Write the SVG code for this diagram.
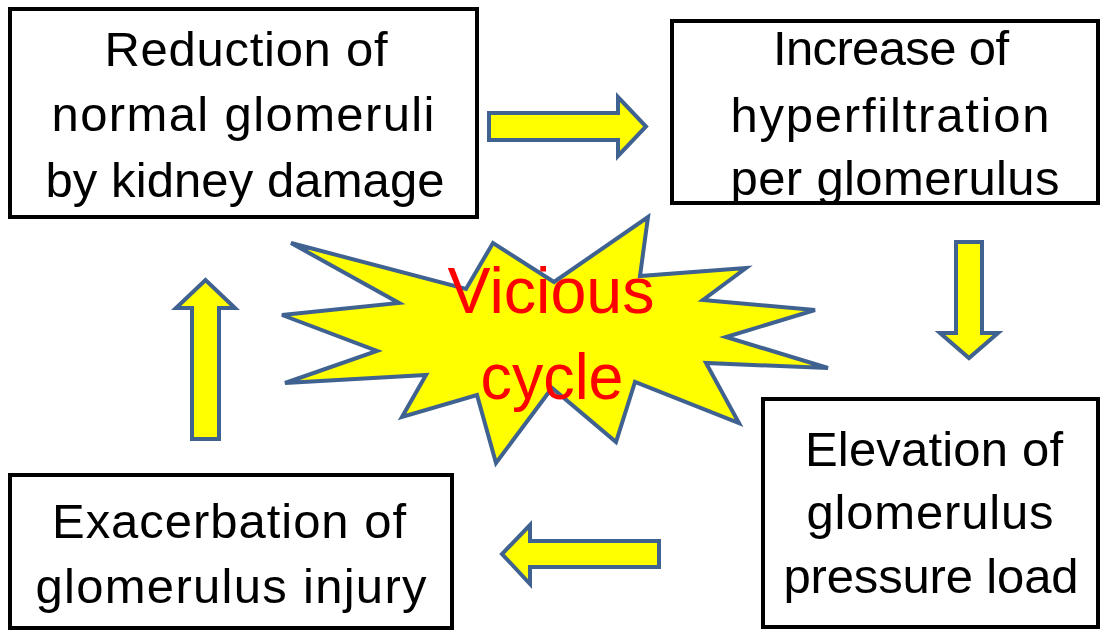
<svg xmlns="http://www.w3.org/2000/svg" width="1104" height="632" viewBox="0 0 1104 632">
<style>
.box{fill:#ffffff;stroke:#000000;stroke-width:4}
.t{font-family:"Liberation Sans",Arial,sans-serif;font-size:49px;fill:#000000;text-anchor:middle}
.shape{fill:#ffff00;stroke:#3f6290;stroke-width:4;stroke-linejoin:miter}
.v{font-family:"Liberation Sans",Arial,sans-serif;font-size:64px;fill:#ff0000;text-anchor:middle}
</style>
<rect width="1104" height="632" fill="#ffffff"/>
<g id="star">
<polygon class="shape" stroke-width="3.5" points="291,243 466,289 493,243 554,282 648,217 640,276 746,268 703,300 815,310 726,337 828,368 706,363 739,423 635,382 616,442 552,388 496,463 477,395 402,417 426,375 285,383 377,351 282,315 399,303"/>
<text class="v" x="551" y="313" textLength="207" lengthAdjust="spacingAndGlyphs">Vicious</text>
<text class="v" x="552" y="399" textLength="143" lengthAdjust="spacingAndGlyphs">cycle</text>
</g>
<g id="connectors">
<path class="shape" d="M489,113 L618,113 L618,97 L646,126.5 L618,156 L618,140 L489,140 Z"/>
<path class="shape" d="M956,242 L982,242 L982,333 L998,333 L969,358 L940,333 L956,333 Z"/>
<path class="shape" d="M659,541 L659,567 L530,567 L530,584 L502,554 L530,525 L530,541 Z"/>
<path class="shape" d="M192,439 L219,439 L219,308 L235,308 L205.5,280 L176,308 L192,308 Z"/>
</g>
<g id="node1">
<rect class="box" x="10" y="9" width="467" height="208"/>
<text class="t" x="246" y="66" textLength="283">Reduction of</text>
<text class="t" x="243" y="131" textLength="383">normal glomeruli</text>
<text class="t" x="245" y="197" textLength="399">by kidney damage</text>
</g>
<g id="node2">
<rect class="box" x="672" y="21" width="426" height="182"/>
<text class="t" x="891" y="65" textLength="236">Increase of</text>
<text class="t" x="890" y="132" textLength="319">hyperfiltration</text>
<text class="t" x="895" y="195" textLength="329">per glomerulus</text>
</g>
<g id="node3">
<rect class="box" x="763" y="399" width="335" height="228"/>
<text class="t" x="934" y="466" textLength="258">Elevation of</text>
<text class="t" x="930" y="529" textLength="247">glomerulus</text>
<text class="t" x="931" y="593" textLength="295">pressure load</text>
</g>
<g id="node4">
<rect class="box" x="10" y="475" width="442" height="153"/>
<text class="t" x="229" y="538" textLength="354">Exacerbation of</text>
<text class="t" x="231" y="603" textLength="391">glomerulus injury</text>
</g>
</svg>
